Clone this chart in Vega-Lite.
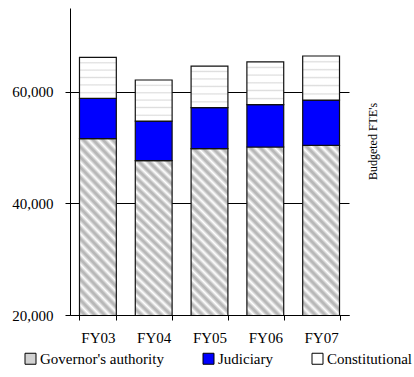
{
  "$schema": "https://vega.github.io/schema/vega-lite/v6.json",
  "width": 279,
  "height": 307,
  "autosize": {"type": "none"},
  "padding": {"left": 70, "top": 8, "right": 65, "bottom": 62},
  "background": "white",
  "config": {
    "view": {"stroke": null},
    "font": "Liberation Serif"
  },
  "data": {
    "values": [
      {"year": "FY03", "category": "Governor's authority", "value": 51600},
      {"year": "FY03", "category": "Judiciary", "value": 7200},
      {"year": "FY03", "category": "Constitutional", "value": 7350},
      {"year": "FY04", "category": "Governor's authority", "value": 47650},
      {"year": "FY04", "category": "Judiciary", "value": 7100},
      {"year": "FY04", "category": "Constitutional", "value": 7350},
      {"year": "FY05", "category": "Governor's authority", "value": 49800},
      {"year": "FY05", "category": "Judiciary", "value": 7350},
      {"year": "FY05", "category": "Constitutional", "value": 7450},
      {"year": "FY06", "category": "Governor's authority", "value": 50100},
      {"year": "FY06", "category": "Judiciary", "value": 7600},
      {"year": "FY06", "category": "Constitutional", "value": 7650},
      {"year": "FY07", "category": "Governor's authority", "value": 50400},
      {"year": "FY07", "category": "Judiciary", "value": 8100},
      {"year": "FY07", "category": "Constitutional", "value": 7900}
    ]
  },
  "transform": [
    {"calculate": "indexof(['Governor\\'s authority', 'Judiciary', 'Constitutional'], datum.category)", "as": "stackOrder"}
  ],
  "mark": {"type": "bar", "clip": true, "stroke": "#111111", "strokeWidth": 1.2, "fillOpacity": 1},
  "encoding": {
    "x": {
      "field": "year",
      "type": "nominal",
      "scale": {"paddingInner": 0.34, "paddingOuter": 0.17},
      "axis": {
        "title": null,
        "labelAngle": 0,
        "tickBand": "extent",
        "labelPadding": 10,
        "labelFontSize": 15,
        "labelFont": "Liberation Serif",
        "labelColor": "black",
        "domainColor": "black",
        "tickColor": "black",
        "tickSize": 5,
        "grid": false
      }
    },
    "y": {
      "field": "value",
      "type": "quantitative",
      "stack": "zero",
      "scale": {"domain": [20000, 75000], "nice": false, "zero": false},
      "axis": {
        "values": [20000, 40000, 60000],
        "format": ",d",
        "grid": true,
        "gridColor": "black",
        "gridOpacity": 1,
        "gridWidth": 1,
        "domainColor": "black",
        "tickColor": "black",
        "tickSize": 5,
        "labelPadding": 12,
        "labelFontSize": 15,
        "labelFont": "Liberation Serif",
        "labelColor": "black",
        "title": "Budgeted FTE's",
        "titleFont": "Liberation Serif",
        "titleFontSize": 12,
        "titleFontWeight": "normal",
        "titleColor": "black",
        "titleAngle": 270,
        "titleX": 306,
        "titleY": 133,
        "titleAlign": "center",
        "titleBaseline": "alphabetic"
      }
    },
    "order": {"field": "stackOrder", "type": "quantitative", "sort": "ascending"},
    "fill": {
      "condition": [
        {
          "test": "datum.category === \"Governor's authority\"",
          "value": {
            "gradient": "linear",
            "x1": 0, "y1": 1, "x2": 0.1488, "y2": -0.114,
            "stops": [
              {"offset": 0, "color": "#ffffff"}, {"offset": 0.0125, "color": "#b8b8b8"}, {"offset": 0.01875, "color": "#b8b8b8"},
              {"offset": 0.03125, "color": "#ffffff"}, {"offset": 0.04375, "color": "#b8b8b8"}, {"offset": 0.05, "color": "#b8b8b8"},
              {"offset": 0.0625, "color": "#ffffff"}, {"offset": 0.075, "color": "#b8b8b8"}, {"offset": 0.08125, "color": "#b8b8b8"},
              {"offset": 0.09375, "color": "#ffffff"}, {"offset": 0.10625, "color": "#b8b8b8"}, {"offset": 0.1125, "color": "#b8b8b8"},
              {"offset": 0.125, "color": "#ffffff"}, {"offset": 0.1375, "color": "#b8b8b8"}, {"offset": 0.14375, "color": "#b8b8b8"},
              {"offset": 0.15625, "color": "#ffffff"}, {"offset": 0.16875, "color": "#b8b8b8"}, {"offset": 0.175, "color": "#b8b8b8"},
              {"offset": 0.1875, "color": "#ffffff"}, {"offset": 0.2, "color": "#b8b8b8"}, {"offset": 0.20625, "color": "#b8b8b8"},
              {"offset": 0.21875, "color": "#ffffff"}, {"offset": 0.23125, "color": "#b8b8b8"}, {"offset": 0.2375, "color": "#b8b8b8"},
              {"offset": 0.25, "color": "#ffffff"}, {"offset": 0.2625, "color": "#b8b8b8"}, {"offset": 0.26875, "color": "#b8b8b8"},
              {"offset": 0.28125, "color": "#ffffff"}, {"offset": 0.29375, "color": "#b8b8b8"}, {"offset": 0.3, "color": "#b8b8b8"},
              {"offset": 0.3125, "color": "#ffffff"}, {"offset": 0.325, "color": "#b8b8b8"}, {"offset": 0.33125, "color": "#b8b8b8"},
              {"offset": 0.34375, "color": "#ffffff"}, {"offset": 0.35625, "color": "#b8b8b8"}, {"offset": 0.3625, "color": "#b8b8b8"},
              {"offset": 0.375, "color": "#ffffff"}, {"offset": 0.3875, "color": "#b8b8b8"}, {"offset": 0.39375, "color": "#b8b8b8"},
              {"offset": 0.40625, "color": "#ffffff"}, {"offset": 0.41875, "color": "#b8b8b8"}, {"offset": 0.425, "color": "#b8b8b8"},
              {"offset": 0.4375, "color": "#ffffff"}, {"offset": 0.45, "color": "#b8b8b8"}, {"offset": 0.45625, "color": "#b8b8b8"},
              {"offset": 0.46875, "color": "#ffffff"}, {"offset": 0.48125, "color": "#b8b8b8"}, {"offset": 0.4875, "color": "#b8b8b8"},
              {"offset": 0.5, "color": "#ffffff"}, {"offset": 0.5125, "color": "#b8b8b8"}, {"offset": 0.51875, "color": "#b8b8b8"},
              {"offset": 0.53125, "color": "#ffffff"}, {"offset": 0.54375, "color": "#b8b8b8"}, {"offset": 0.55, "color": "#b8b8b8"},
              {"offset": 0.5625, "color": "#ffffff"}, {"offset": 0.575, "color": "#b8b8b8"}, {"offset": 0.58125, "color": "#b8b8b8"},
              {"offset": 0.59375, "color": "#ffffff"}, {"offset": 0.60625, "color": "#b8b8b8"}, {"offset": 0.6125, "color": "#b8b8b8"},
              {"offset": 0.625, "color": "#ffffff"}, {"offset": 0.6375, "color": "#b8b8b8"}, {"offset": 0.64375, "color": "#b8b8b8"},
              {"offset": 0.65625, "color": "#ffffff"}, {"offset": 0.66875, "color": "#b8b8b8"}, {"offset": 0.675, "color": "#b8b8b8"},
              {"offset": 0.6875, "color": "#ffffff"}, {"offset": 0.7, "color": "#b8b8b8"}, {"offset": 0.70625, "color": "#b8b8b8"},
              {"offset": 0.71875, "color": "#ffffff"}, {"offset": 0.73125, "color": "#b8b8b8"}, {"offset": 0.7375, "color": "#b8b8b8"},
              {"offset": 0.75, "color": "#ffffff"}, {"offset": 0.7625, "color": "#b8b8b8"}, {"offset": 0.76875, "color": "#b8b8b8"},
              {"offset": 0.78125, "color": "#ffffff"}, {"offset": 0.79375, "color": "#b8b8b8"}, {"offset": 0.8, "color": "#b8b8b8"},
              {"offset": 0.8125, "color": "#ffffff"}, {"offset": 0.825, "color": "#b8b8b8"}, {"offset": 0.83125, "color": "#b8b8b8"},
              {"offset": 0.84375, "color": "#ffffff"}, {"offset": 0.85625, "color": "#b8b8b8"}, {"offset": 0.8625, "color": "#b8b8b8"},
              {"offset": 0.875, "color": "#ffffff"}, {"offset": 0.8875, "color": "#b8b8b8"}, {"offset": 0.89375, "color": "#b8b8b8"},
              {"offset": 0.90625, "color": "#ffffff"}, {"offset": 0.91875, "color": "#b8b8b8"}, {"offset": 0.925, "color": "#b8b8b8"},
              {"offset": 0.9375, "color": "#ffffff"}, {"offset": 0.95, "color": "#b8b8b8"}, {"offset": 0.95625, "color": "#b8b8b8"},
              {"offset": 0.96875, "color": "#ffffff"}, {"offset": 0.98125, "color": "#b8b8b8"}, {"offset": 0.9875, "color": "#b8b8b8"},
              {"offset": 1, "color": "#ffffff"}
            ]
          }
        },
        {
          "test": "datum.category === 'Constitutional'",
          "value": {
            "gradient": "linear",
            "x1": 0, "y1": 0, "x2": 0, "y2": 1,
            "stops": [
              {"offset": 0, "color": "#ffffff"}, {"offset": 0.1, "color": "#ffffff"}, {"offset": 0.13, "color": "#dedede"}, {"offset": 0.16, "color": "#ffffff"},
              {"offset": 0.28, "color": "#ffffff"}, {"offset": 0.31, "color": "#dedede"}, {"offset": 0.34, "color": "#ffffff"},
              {"offset": 0.46, "color": "#ffffff"}, {"offset": 0.49, "color": "#dedede"}, {"offset": 0.52, "color": "#ffffff"},
              {"offset": 0.64, "color": "#ffffff"}, {"offset": 0.67, "color": "#dedede"}, {"offset": 0.7, "color": "#ffffff"},
              {"offset": 0.83, "color": "#ffffff"}, {"offset": 0.86, "color": "#dedede"}, {"offset": 0.89, "color": "#ffffff"},
              {"offset": 1, "color": "#ffffff"}
            ]
          }
        }
      ],
      "field": "category",
      "type": "nominal",
      "scale": {
        "domain": ["Governor's authority", "Judiciary", "Constitutional"],
        "range": ["#d2d2d2", "#0000ff", "#ffffff"]
      },
      "legend": {
        "title": null,
        "orient": "none",
        "direction": "horizontal",
        "legendX": -47,
        "legendY": 343,
        "padding": 0,
        "columnPadding": 37,
        "symbolType": "square",
        "symbolSize": 121,
        "symbolStrokeColor": "black",
        "symbolStrokeWidth": 1,
        "symbolOpacity": 1,
        "labelFont": "Liberation Serif",
        "labelFontSize": 15,
        "labelColor": "black",
        "labelOffset": 2
      }
    }
  }
}
